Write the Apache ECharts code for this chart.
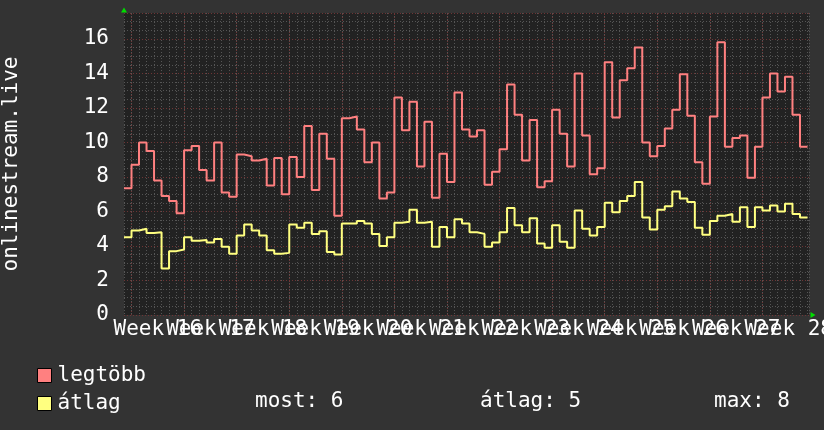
<!DOCTYPE html>
<html>
<head>
<meta charset="utf-8">
<script src="https://cdn.jsdelivr.net/npm/echarts@6/dist/echarts.min.js"></script>
<style>
html, body { margin: 0; padding: 0; background: #333333; }
#chart { width: 824px; height: 430px; }
</style>
</head>
<body>
<div id="chart"></div>
<script>
// daily values, one step per day
var legtobbData = [
    7.35, 8.7, 10.0, 9.5, 7.8, 6.9, 6.6, 5.9, 9.55, 9.8,
    8.4, 7.8, 10.0, 7.1, 6.85, 9.3, 9.2, 8.95, 9.05, 7.5,
    9.1, 7.0, 9.15, 8.0, 10.95, 7.25, 10.5, 9.05, 5.75, 11.4,
    11.5, 10.75, 8.85, 10.0, 6.75, 7.1, 12.6, 10.7, 12.35, 8.6,
    11.2, 6.8, 9.35, 7.7, 12.9, 10.75, 10.35, 10.7, 7.55, 8.3,
    9.6, 13.35, 11.6, 8.95, 11.3, 7.4, 7.75, 11.9, 10.5, 8.6,
    14.0, 10.4, 8.15, 8.5, 14.65, 11.45, 13.6, 14.3, 15.5, 10.0,
    9.2, 9.8, 10.8, 11.9, 13.95, 11.55, 8.85, 7.6, 11.5, 15.8,
    9.75, 10.25, 10.4, 7.95, 9.75, 12.6, 14.0, 12.95, 13.8, 11.6,
    9.75
];
var atlagData = [
    4.5, 4.9, 5.0, 4.75, 4.8, 2.7, 3.7, 3.8, 4.5, 4.3,
    4.35, 4.2, 4.4, 3.95, 3.55, 4.6, 5.25, 4.9, 4.6, 3.75,
    3.55, 3.6, 5.25, 5.05, 5.35, 4.7, 4.85, 3.65, 3.5, 5.3,
    5.3, 5.45, 5.3, 4.7, 4.0, 4.5, 5.35, 5.4, 6.1, 5.35,
    5.4, 3.95, 5.1, 4.5, 5.55, 5.3, 4.8, 4.7, 3.95, 4.2,
    4.8, 6.2, 5.2, 4.8, 5.6, 4.15, 3.9, 5.2, 4.25, 3.9,
    6.05, 5.0, 4.6, 5.1, 6.5, 5.95, 6.6, 6.9, 7.7, 5.65,
    4.95, 6.1, 6.3, 7.15, 6.75, 6.55, 5.05, 4.65, 5.45, 5.75,
    5.85, 5.4, 6.25, 5.1, 6.25, 6.05, 6.35, 6.0, 6.45, 5.85,
    5.65
];
var weekLabels = ['Week 16', 'Week 17', 'Week 18', 'Week 19', 'Week 20', 'Week 21', 'Week 22',
    'Week 23', 'Week 24', 'Week 25', 'Week 26', 'Week 27', 'Week 28'];
var legendNames = ['legtöbb', 'átlag'];
var statLabels = ['most: 6', 'átlag: 5', 'max: 8'];

var fontFamily = 'DejaVu Sans Mono';
var firstWeekDay = 1; // the first week boundary falls one day after the left edge
var xMin = 0;
var xMax = 91.2;

var weekStarts = weekLabels.map(function(l, i) {
    return firstWeekDay + i * 7;
});
var weekMids = weekStarts.map(function(d) {
    return d + 3.5;
});

// turn daily values into points for a step line, closing the last day
function toSteps(values) {
    var points = values.map(function(v, i) {
        return [i, v];
    });
    points.push([values.length, values[values.length - 1]]);
    return points;
}

// empty labels at both ends, so echarts' min/max label check drops only those
var labelValues = [xMin].concat(weekMids, [xMax]);

function weekLabelFor(v) {
    for (var i = 0; i < weekMids.length; i++) {
        if (Math.abs(weekMids[i] - v) < 0.01) {
            return weekLabels[i];
        }
    }
    return '';
}

var chart = echarts.init(document.getElementById('chart'), null, {
    renderer: 'canvas'
});

var arrowLine = function(offset) {
    return {
        show: true,
        symbol: ['none', 'triangle'],
        symbolSize: [6, 5],
        symbolOffset: [0, offset],
        lineStyle: { color: '#00dd00', width: 0 }
    };
};

var option = {
    backgroundColor: '#333333',
    animation: false,
    textStyle: { fontFamily: fontFamily },
    grid: {
        left: 124,
        right: 15,
        top: 13,
        bottom: 115,
        outerBoundsMode: 'none',
        containLabel: false,
        show: true,
        backgroundColor: '#222222',
        borderWidth: 0
    },
    xAxis: [{
        type: 'value',
        min: xMin,
        max: xMax,
        interval: 1,
        axisLine: arrowLine(4),
        axisTick: { show: false },
        axisLabel: {
            customValues: labelValues,
            formatter: weekLabelFor,
            color: '#ffffff',
            fontSize: 21,
            fontFamily: fontFamily,
            margin: 4,
            hideOverlap: false,
            showMinLabel: false,
            showMaxLabel: false
        },
        splitLine: { show: true, lineStyle: { color: '#555555', type: [1, 2], width: 1 } }
    }],
    yAxis: [{
        type: 'value',
        min: 0,
        max: 17.5,
        interval: 2,
        position: 'left',
        z: 1,
        name: 'onlinestream.live',
        nameLocation: 'middle',
        nameGap: 102,
        nameTextStyle: { color: '#ffffff', fontSize: 21, fontFamily: fontFamily },
        axisLine: arrowLine(3),
        axisTick: { show: false },
        axisLabel: {
            color: '#ffffff',
            fontSize: 21,
            fontFamily: fontFamily,
            margin: 15,
            showMaxLabel: false
        },
        splitLine: { show: true, lineStyle: { color: '#6e3535', type: [1, 2], width: 1 } }
    }, {
        // minor grid only
        type: 'value',
        min: 0,
        max: 17.5,
        interval: 0.5,
        position: 'right',
        z: 0,
        axisLine: { show: false },
        axisTick: { show: false },
        axisLabel: { show: false },
        splitLine: { show: true, lineStyle: { color: '#555555', type: [1, 2], width: 1 } }
    }],
    legend: {
        orient: 'vertical',
        left: 32,
        top: 360,
        itemWidth: 14,
        itemHeight: 14,
        itemGap: 7,
        icon: 'rect',
        selectedMode: false,
        itemStyle: { borderColor: '#000000', borderWidth: 1 },
        textStyle: { color: '#ffffff', fontSize: 21, fontFamily: fontFamily, padding: [0, 0, 0, 1] },
        data: legendNames
    },
    graphic: statLabels.map(function(text, i) {
        return {
            type: 'text',
            x: [255, 480, 714][i],
            y: 402,
            silent: true,
            style: {
                text: text,
                fill: '#ffffff',
                font: '21px "DejaVu Sans Mono"',
                verticalAlign: 'middle'
            }
        };
    }),
    series: [{
        name: legendNames[0],
        type: 'line',
        step: 'end',
        data: toSteps(legtobbData),
        symbol: 'none',
        silent: true,
        z: 3,
        itemStyle: { color: '#ff8080' },
        lineStyle: { color: '#ff8080', width: 2 },
        markLine: {
            silent: true,
            z: 1,
            symbol: ['none', 'none'],
            label: { show: false },
            lineStyle: { color: '#6e3535', type: [1, 2], width: 1 },
            data: weekStarts.map(function(d) {
                return { xAxis: d };
            })
        }
    }, {
        name: legendNames[1],
        type: 'line',
        step: 'end',
        data: toSteps(atlagData),
        symbol: 'none',
        silent: true,
        z: 3,
        itemStyle: { color: '#ffff80' },
        lineStyle: { color: '#ffff80', width: 2 }
    }]
};

chart.setOption(option);
</script>
</body>
</html>
